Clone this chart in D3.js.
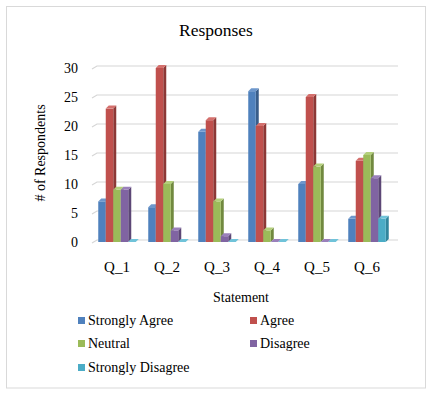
<!DOCTYPE html>
<html><head><meta charset="utf-8">
<script src="https://cdn.jsdelivr.net/npm/d3@7"></script>
<style>body{margin:0;background:#fff}svg{display:block}
text{font-family:"Liberation Serif","Times New Roman",Times,"DejaVu Serif",serif !important}</style>
</head><body><svg id="c" width="430" height="394"></svg>
<script>
const categories = ["Q_1","Q_2","Q_3","Q_4","Q_5","Q_6"];
const seriesNames = ["Strongly Agree","Agree","Neutral","Disagree","Strongly Disagree"];
const stronglyAgree = [7,6,19,26,10,4];
const agree = [23,30,21,20,25,14];
const neutral = [9,10,7,2,13,15];
const disagree = [9,2,1,0,0,11];
const stronglyDisagree = [0,0,0,0,0,4];
const yTicks = [0,5,10,15,20,25,30];
const colors = ["#4f81bd","#c0504d","#9bbb59","#8064a2","#4bacc6"];
const sideColors = ["#385d8a","#8c3836","#71893f","#5c4776","#31859c"];
const topColors = ["#6d97cc","#d4706d","#b3cf7a","#9a80bb","#70c3d9"];
const seriesValues = [stronglyAgree, agree, neutral, disagree, stronglyDisagree];

const svg = d3.select("#c");
svg.append("rect").attr("x",6.5).attr("y",6.5).attr("width",419).attr("height",381.5)
  .attr("fill","#fff").attr("stroke","#d9d9d9");

const y = d3.scaleLinear().domain([0,30]).range([242,68]);
const x0 = d3.scaleBand().domain(categories).range([92,392]).paddingInner(0.25).paddingOuter(0.125);
const x1 = d3.scaleBand().domain(seriesNames).range([0,x0.bandwidth()]);
const dx = 3, dy = -3;

const grid = svg.append("g");
yTicks.forEach(t=>{
  const yy = y(t);
  grid.append("path").attr("d",`M${92},${yy+1}L${97},${yy-2}L${398},${yy-2}`)
    .attr("fill","none").attr("stroke","#d6d6d6").attr("stroke-width",1.2);
});

const ya = svg.append("g").attr("transform","translate(78,0)")
  .call(d3.axisLeft(y).tickValues(yTicks).tickSize(0).tickPadding(0));
ya.select(".domain").remove();
ya.selectAll("text").attr("font-size",14).attr("fill","#000");

const bars = svg.append("g");
categories.forEach((c,ci)=>{
  seriesNames.forEach((s,si)=>{
    const v = seriesValues[si][ci];
    const bx = x0(c)+x1(s), bw = x1.bandwidth();
    const top = y(v), base = y(0);
    const g = bars.append("g");
    g.append("path").attr("d",`M${bx+bw},${top}L${bx+bw+dx},${top+dy}L${bx+bw+dx},${base+dy}L${bx+bw},${base}Z`)
      .attr("fill",sideColors[si]);
    if (base-top>0) g.append("rect").attr("x",bx).attr("y",top).attr("width",bw).attr("height",base-top).attr("fill",colors[si]);
    g.append("path").attr("d",`M${bx},${top}L${bx+dx},${top+dy}L${bx+bw+dx},${top+dy}L${bx+bw},${top}Z`)
      .attr("fill",topColors[si]);
  });
});

const xa = svg.append("g").attr("transform","translate(0,261)")
  .call(d3.axisBottom(x0).tickSize(0).tickPadding(0));
xa.select(".domain").remove();
xa.selectAll("text").attr("font-size",15).attr("fill","#000").attr("dy","0.71em");

svg.append("text").attr("x",216).attr("y",36).attr("text-anchor","middle")
  .attr("font-size",17.5).text("Responses");
svg.append("text").attr("x",241).attr("y",302).attr("text-anchor","middle")
  .attr("font-size",14).text("Statement");
svg.append("text").attr("transform","translate(45,153) rotate(-90)").attr("text-anchor","middle")
  .attr("font-size",14).text("# of Respondents");

const legPos = [[78,320],[250,320],[78,343],[250,343],[78,367]];
seriesNames.forEach((s,i)=>{
  const [lx,ly] = legPos[i];
  svg.append("rect").attr("x",lx).attr("y",ly-3).attr("width",7).attr("height",7).attr("fill",colors[i]);
  svg.append("text").attr("x",lx+10).attr("y",ly+5).attr("font-size",14).text(s);
});
</script></body></html>
